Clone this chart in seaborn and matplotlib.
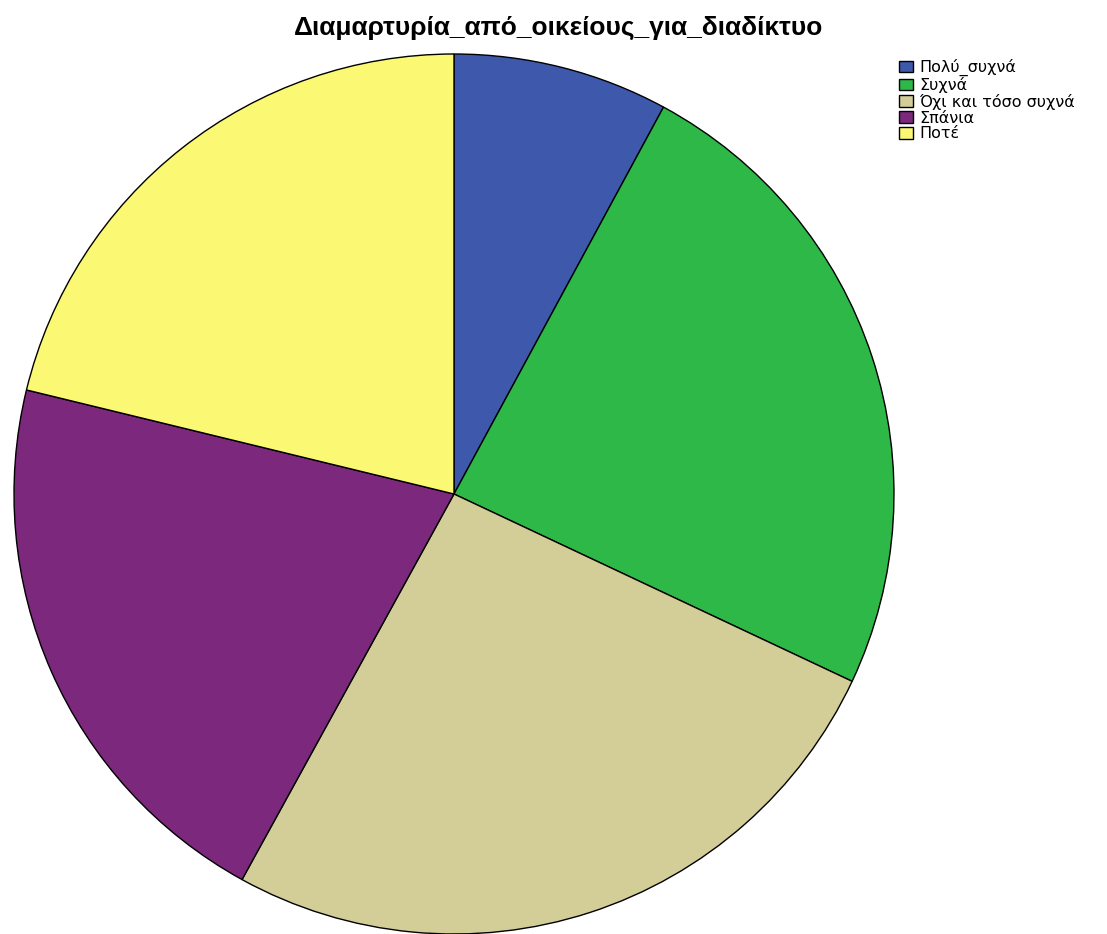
import matplotlib
matplotlib.use("Agg")
import matplotlib.pyplot as plt
import seaborn as sns

title = "Διαμαρτυρία_από_οικείους_για_διαδίκτυο"
categories = ["Πολύ_συχνά", "Συχνά", "Όχι και τόσο συχνά", "Σπάνια", "Ποτέ"]
percents = [7.9, 24.1, 26.0, 20.8, 21.2]
colors_hex = ["#3E58AC", "#2EB848", "#D3CE97", "#7C287D", "#FBF873"]

sns.set_theme(style="white")
plt.rcParams['font.family'] = ['Liberation Sans', 'DejaVu Sans']

W, H = 1107, 934
fig = plt.figure(figsize=(W / 100, H / 100), dpi=100)
cx, cy, r = 454, 494, 440
ax = fig.add_axes([(cx - r) / W, (H - cy - r) / H, 2 * r / W, 2 * r / H])
palette = sns.color_palette(colors_hex)
wedges, _ = ax.pie(percents, colors=palette, startangle=90, counterclock=False,
                   radius=1.0, wedgeprops=dict(edgecolor="black", linewidth=1.0))
ax.set_xlim(-1, 1)
ax.set_ylim(-1, 1)
ax.set_aspect("auto")
ax.axis("off")

fig.text(559 / W, 1 - 28 / H, title, ha="center", va="center",
         fontsize=19, fontweight="bold", color="black")

leg = fig.legend(wedges, categories, loc="upper left",
                 bbox_to_anchor=(899 / W, 1 - 59 / H), frameon=False,
                 prop=dict(family="DejaVu Sans", size=11.5),
                 handlelength=0.85, handleheight=0.75,
                 handletextpad=0.4, labelspacing=0.05, borderpad=0.0,
                 borderaxespad=0)
for t in leg.get_texts():
    t.set_color("black")
for h in leg.legend_handles:
    h.set_edgecolor("black")
    h.set_linewidth(1.0)

fig.savefig("out.png", dpi=100)
